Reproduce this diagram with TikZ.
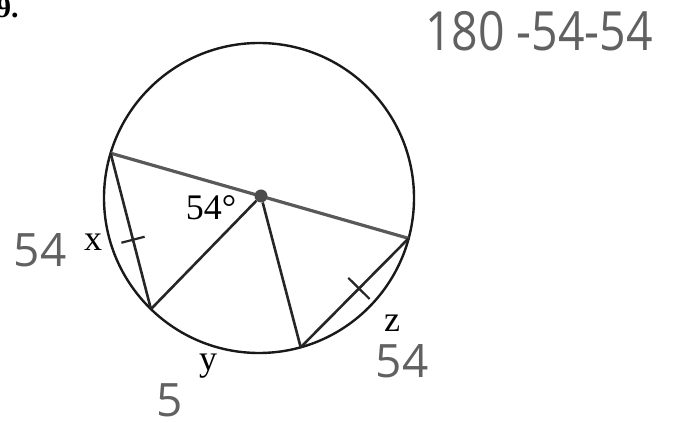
\documentclass[tikz,border=0pt]{standalone}
\usepackage{fontspec}
\setmainfont{Liberation Serif}
\newfontfamily\handfont{Open Sans}
\usetikzlibrary{calc}

\begin{document}
\begin{tikzpicture}[x=1pt,y=1pt,
    every node/.style={inner sep=0pt},
    printed/.style={font=\fontsize{36}{36}\selectfont},
    hand/.style={font=\handfont\fontsize{46}{46}\selectfont, text=black!62},
    rim/.style={line width=2.4pt, black!90},
    chord/.style={line width=2.6pt, black!85},
    diam/.style={line width=3.2pt, black!65},
    tickmark/.style={line width=2.2pt, black!85}]
  \useasboundingbox (0,0) rectangle (675,423);
  \clip (0,0) rectangle (675,423);

  \node[anchor=base west, font=\bfseries\fontsize{30}{30}\selectfont] (num) at (-4,405) {9.};

  \coordinate (M) at (259,225);
  \draw[rim] (M) circle[radius=155];

  \path (M) ++(163.2:155) coordinate (A);
  \path (M) ++(225.8:155) coordinate (B);
  \path (M) ++(285.6:155) coordinate (C);
  \path (M) ++(344.9:155) coordinate (D);

  \draw[diam] (A) -- (D);
  \node[circle, fill=black!70, minimum size=13pt] (O) at (261,227) {};

  \draw[chord] (A) -- (B);
  \draw[chord] (B) -- (O);
  \draw[chord] (O) -- (C);
  \draw[chord] (C) -- (D);

  \draw[tickmark] ($(A)!0.555!(B)!12pt!90:(B)$) -- ($(A)!0.555!(B)!12pt!-90:(B)$);
  \draw[tickmark] ($(C)!0.54!(D)!15pt!90:(D)$) -- ($(C)!0.54!(D)!15pt!-90:(D)$);

  \node[printed] (ang) at (211,215) {54°};
  \node[printed] (lx) at (93,181) {x};
  \node[printed] (ly) at (208,57) {y};
  \node[printed] (lz) at (392,100) {z};

  \node[hand] (h54a) at (40,173) {54};
  \node[hand] (h54b) at (402,62) {54};
  \node[hand] (h5) at (170,23) {5};
  \node[hand, font=\handfont\fontsize{54}{54}\selectfont, xscale=0.86, transform shape] (work) at (539,392) {180 -54-54};
\end{tikzpicture}
\end{document}
